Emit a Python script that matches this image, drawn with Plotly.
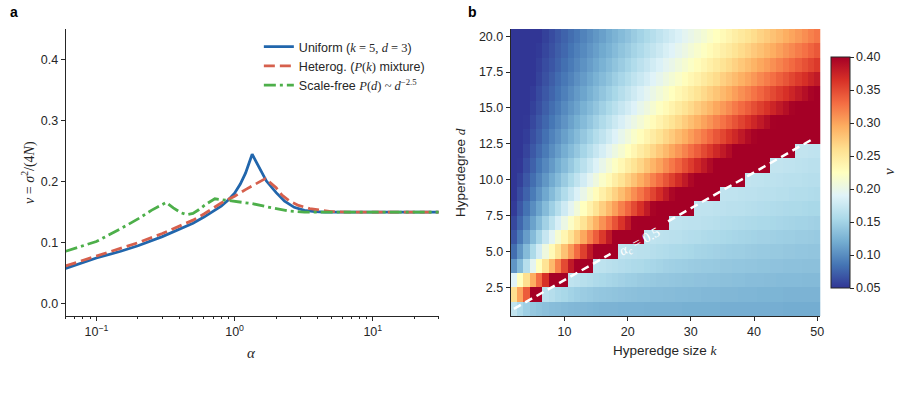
import math
import plotly.graph_objects as go

# ---------------- Panel a: nu vs alpha (log x) ----------------
alpha_uniform = [0.06, 0.08, 0.1, 0.15, 0.2, 0.3, 0.4, 0.5, 0.6, 0.7, 0.8, 0.9, 1.0, 1.1, 1.2,
                 1.34, 1.5, 1.7, 2.0, 2.3, 2.7, 3.2, 3.8, 4.5, 6.0, 10.0, 30.0]
nu_uniform = [0.058, 0.067, 0.075, 0.086, 0.095, 0.110, 0.122, 0.132, 0.142, 0.151, 0.160, 0.170, 0.181,
              0.196, 0.214, 0.245, 0.223, 0.201, 0.182, 0.168, 0.158, 0.153, 0.151, 0.150, 0.150, 0.150, 0.150]

alpha_hetero = [0.06, 0.08, 0.1, 0.15, 0.2, 0.3, 0.4, 0.5, 0.6, 0.7, 0.8, 0.9, 1.0, 1.2, 1.4,
                1.67, 2.0, 2.2, 2.5, 2.9, 3.5, 4.2, 5.0, 7.0, 10.0, 30.0]
nu_hetero = [0.062, 0.071, 0.079, 0.091, 0.100, 0.115, 0.127, 0.137, 0.147, 0.157, 0.165, 0.171, 0.176,
             0.187, 0.196, 0.205, 0.190, 0.178, 0.168, 0.161, 0.156, 0.153, 0.151, 0.150, 0.150, 0.150]

alpha_scalefree = [0.06, 0.08, 0.1, 0.15, 0.2, 0.25, 0.3, 0.32, 0.36, 0.41, 0.45, 0.5, 0.55, 0.62,
                   0.72, 0.85, 1.0, 1.34, 1.87, 2.46, 3.2, 5.0, 10.0, 30.0]
nu_scalefree = [0.086, 0.095, 0.102, 0.123, 0.139, 0.153, 0.162, 0.166, 0.157, 0.149, 0.146, 0.148,
                0.154, 0.163, 0.172, 0.170, 0.168, 0.164, 0.157, 0.152, 0.150, 0.150, 0.150, 0.150]

legend_names = [
    'Uniform (<span style="font-family:Liberation Serif"><i>k</i> = 5, <i>d</i> = 3</span>)',
    'Heterog. (<span style="font-family:Liberation Serif"><i>P</i>(<i>k</i>)</span> mixture)',
    'Scale-free <span style="font-family:Liberation Serif"><i>P</i>(<i>d</i>) ~ <i>d</i><sup>−2.5</sup></span>',
]

# ---------------- Panel b: heatmap nu(k, d) ----------------
k_values = list(range(2, 51))   # hyperedge size k = 2..50
d_values = list(range(1, 21))   # hyperdegree d = 1..20

nu_d01 = [.170, .157, .147, .141, .138, .135, .133, .132, .130, .129, .128, .128, .127, .126, .125, .125, .125,
          .124, .124, .124, .124, .123, .123, .123, .123, .123, .123, .122, .122, .122, .122, .122, .122, .121,
          .121, .121, .121, .121, .121, .121, .121, .121, .121, .120, .120, .120, .120, .120, .120]
nu_d02 = [.260, .300, .340, .400, .400, .166, .162, .157, .154, .150, .147, .145, .143, .141, .140, .139, .138,
          .137, .136, .135, .134, .134, .133, .133, .132, .132, .131, .131, .130, .130, .129, .129, .129, .128,
          .128, .128, .127, .127, .127, .126, .126, .126, .126, .125, .125, .125, .125, .125, .125]
nu_d03 = [.190, .225, .260, .295, .330, .365, .400, .400, .400, .168, .166, .163, .160, .157, .155, .153, .151,
          .149, .147, .146, .144, .143, .142, .141, .141, .140, .139, .138, .138, .137, .137, .136, .136, .135,
          .135, .134, .134, .133, .133, .133, .132, .132, .131, .131, .131, .131, .130, .130, .130]
nu_d04 = [.105, .131, .162, .194, .225, .256, .287, .319, .350, .381, .400, .400, .400, .168, .167, .165, .163,
          .161, .159, .157, .156, .154, .153, .151, .149, .148, .147, .146, .145, .144, .143, .143, .142, .141,
          .141, .140, .140, .139, .139, .138, .138, .137, .137, .136, .136, .136, .135, .135, .135]
nu_d05 = [.081, .106, .131, .156, .181, .206, .231, .256, .281, .306, .331, .356, .381, .400, .400, .400, .400,
          .169, .167, .166, .165, .164, .162, .160, .159, .157, .156, .155, .154, .152, .151, .150, .149, .148,
          .147, .146, .146, .145, .144, .143, .143, .142, .142, .141, .141, .140, .140, .139, .139]
nu_d06 = [.068, .089, .110, .131, .152, .173, .193, .214, .235, .256, .277, .298, .319, .339, .360, .381, .400,
          .400, .400, .400, .400, .169, .168, .167, .166, .165, .164, .162, .161, .160, .158, .157, .156, .155,
          .154, .153, .152, .151, .150, .149, .149, .148, .147, .146, .146, .145, .145, .144, .143]
nu_d07 = [.060, .077, .095, .113, .131, .149, .167, .185, .202, .220, .238, .256, .274, .292, .310, .327, .345,
          .363, .381, .399, .400, .400, .400, .400, .400, .169, .168, .167, .166, .166, .165, .164, .163, .161,
          .160, .159, .158, .157, .156, .155, .155, .154, .153, .152, .151, .150, .150, .149, .148]
nu_d08 = [.053, .069, .084, .100, .115, .131, .147, .162, .178, .194, .209, .225, .240, .256, .272, .287, .303,
          .319, .334, .350, .365, .381, .397, .400, .400, .400, .400, .400, .400, .169, .168, .168, .167, .166,
          .165, .165, .164, .163, .162, .161, .160, .159, .158, .157, .156, .156, .155, .154, .154]
nu_d09 = [.050, .062, .075, .089, .103, .117, .131, .145, .159, .173, .187, .200, .214, .228, .242, .256, .270,
          .284, .298, .312, .325, .339, .353, .367, .381, .395, .400, .400, .400, .400, .400, .400, .400, .169,
          .168, .168, .167, .166, .166, .165, .164, .164, .163, .163, .161, .160, .160, .159, .158]
nu_d10 = [.050, .056, .069, .081, .094, .106, .119, .131, .144, .156, .169, .181, .194, .206, .219, .231, .244,
          .256, .269, .281, .294, .306, .319, .331, .344, .356, .369, .381, .394, .400, .400, .400, .400, .400,
          .400, .400, .400, .170, .169, .168, .167, .167, .166, .165, .164, .164, .163, .162, .162]
nu_d11 = [.050, .051, .063, .074, .086, .097, .108, .120, .131, .142, .154, .165, .176, .188, .199, .211, .222,
          .233, .245, .256, .267, .279, .290, .301, .313, .324, .335, .347, .358, .370, .381, .392, .400, .400,
          .400, .400, .400, .400, .400, .400, .400, .170, .170, .169, .168, .167, .166, .165, .165]
nu_d12 = [.050, .050, .058, .069, .079, .089, .100, .110, .121, .131, .141, .152, .162, .173, .183, .194, .204,
          .214, .225, .235, .246, .256, .266, .277, .287, .298, .308, .318, .329, .339, .350, .360, .371, .381,
          .391, .400, .400, .400, .400, .400, .400, .400, .400, .400, .400, .170, .170, .169, .168]
nu_d13 = [.050, .050, .054, .064, .073, .083, .093, .102, .112, .121, .131, .141, .150, .160, .169, .179, .189,
          .198, .208, .218, .227, .237, .246, .256, .266, .275, .285, .294, .304, .314, .323, .333, .343, .352,
          .362, .371, .381, .391, .398, .400, .400, .400, .400, .400, .400, .400, .400, .400, .400]
nu_d14 = [.050, .050, .051, .060, .069, .077, .086, .095, .104, .113, .122, .131, .140, .149, .158, .167, .176,
          .185, .194, .202, .211, .220, .229, .238, .247, .256, .265, .274, .283, .292, .301, .309, .318, .327,
          .336, .345, .354, .363, .372, .381, .390, .399, .400, .400, .400, .400, .400, .400, .400]
nu_d15 = [.050, .050, .050, .056, .064, .073, .081, .089, .098, .106, .114, .123, .131, .139, .148, .156, .164,
          .173, .181, .189, .198, .206, .214, .223, .231, .239, .248, .256, .264, .273, .281, .289, .298, .306,
          .314, .323, .331, .339, .348, .356, .364, .373, .381, .389, .398, .400, .400, .400, .400]
nu_d16 = [.050, .050, .050, .053, .061, .069, .076, .084, .092, .100, .108, .115, .123, .131, .139, .147, .154,
          .162, .170, .178, .186, .194, .201, .209, .217, .225, .233, .240, .248, .256, .264, .272, .279, .287,
          .295, .303, .311, .318, .326, .334, .342, .350, .358, .365, .373, .381, .389, .397, .400]
nu_d17 = [.050, .050, .050, .050, .057, .065, .072, .080, .087, .094, .102, .109, .116, .124, .131, .138, .146,
          .153, .160, .168, .175, .182, .190, .197, .205, .212, .219, .227, .234, .241, .249, .256, .263, .271,
          .278, .285, .293, .300, .307, .315, .322, .329, .337, .344, .352, .359, .366, .374, .381]
nu_d18 = [.050, .050, .050, .050, .055, .062, .068, .075, .082, .089, .096, .103, .110, .117, .124, .131, .138,
          .145, .152, .159, .166, .173, .180, .187, .194, .200, .207, .214, .221, .228, .235, .242, .249, .256,
          .263, .270, .277, .284, .291, .298, .304, .311, .318, .325, .332, .339, .346, .353, .360]
nu_d19 = [.050, .050, .050, .050, .052, .059, .065, .072, .078, .085, .092, .098, .105, .111, .118, .124, .131,
          .138, .144, .151, .157, .164, .170, .177, .184, .190, .197, .203, .210, .217, .223, .230, .236, .243,
          .249, .256, .263, .269, .276, .282, .289, .295, .302, .309, .315, .322, .328, .335, .342]
nu_d20 = [.050, .050, .050, .050, .050, .056, .062, .069, .075, .081, .087, .094, .100, .106, .112, .119, .125,
          .131, .137, .144, .150, .156, .162, .169, .175, .181, .187, .194, .200, .206, .212, .219, .225, .231,
          .237, .244, .250, .256, .262, .269, .275, .281, .287, .294, .300, .306, .312, .319, .325]

nu_grid = [nu_d01, nu_d02, nu_d03, nu_d04, nu_d05, nu_d06, nu_d07, nu_d08, nu_d09, nu_d10,
           nu_d11, nu_d12, nu_d13, nu_d14, nu_d15, nu_d16, nu_d17, nu_d18, nu_d19, nu_d20]
for row in nu_grid:
    assert len(row) == len(k_values), len(row)

# critical line alpha_c = 0.5 (gap where the inline label sits)
crit_k = [2.0, 17.3, None, 26.4, 49.5]
crit_d = [1.0, 4.83, None, 7.10, 12.88]
crit_label = '<i>α</i><sub><i>c</i></sub> = 0.5'
crit_label_pos = (21.9, 5.6)

# ---------------- figure ----------------
W, H = 904, 403
SANS = 'Liberation Sans, Arial, sans-serif'
SERIF = 'Liberation Serif, Times New Roman, serif'
AX = '#262626'


def fx(p):
    return p / W


def fy(p):
    return 1 - p / H


fig = go.Figure()

fig.add_trace(go.Scatter(x=alpha_uniform, y=nu_uniform, mode='lines', name=legend_names[0],
                         line=dict(color='#2166ac', width=2.8), xaxis='x', yaxis='y'))
fig.add_trace(go.Scatter(x=alpha_hetero, y=nu_hetero, mode='lines', name=legend_names[1],
                         line=dict(color='#d6604d', width=2.8, dash='11px,5px'), xaxis='x', yaxis='y'))
fig.add_trace(go.Scatter(x=alpha_scalefree, y=nu_scalefree, mode='lines', name=legend_names[2],
                         line=dict(color='#4daf4a', width=2.8, dash='12px,4px,3px,4px'), xaxis='x', yaxis='y'))

fig.add_trace(go.Heatmap(
    x=k_values, y=d_values, z=nu_grid, zmin=0.05, zmax=0.40, colorscale='RdYlBu_r',
    xaxis='x2', yaxis='y2', showlegend=False,
    colorbar=dict(x=fx(835), xanchor='left', y=fy(172.5), yanchor='middle',
                  len=231 / H, lenmode='fraction', thickness=19, thicknessmode='pixels',
                  outlinewidth=1, outlinecolor=AX, ticks='outside', ticklen=3.5, tickwidth=1,
                  tickcolor=AX, tickvals=[0.05, 0.10, 0.15, 0.20, 0.25, 0.30, 0.35, 0.40],
                  tickformat='.2f', tickfont=dict(family=SANS, size=12.5, color=AX), xpad=0, ypad=0),
))
fig.add_trace(go.Scatter(x=crit_k, y=crit_d, mode='lines', showlegend=False, connectgaps=False,
                         line=dict(color='white', width=2.5, dash='8px,5px'), xaxis='x2', yaxis='y2',
                         hoverinfo='skip'))

tickfont = dict(family=SANS, size=12.5, color=AX)
common = dict(showgrid=False, zeroline=False, showline=True, linecolor=AX, linewidth=1,
              ticks='outside', ticklen=4, tickwidth=1, tickcolor=AX, tickfont=tickfont)

minor_vals = [0.06, 0.07, 0.08, 0.09, 0.2, 0.3, 0.4, 0.5, 0.6, 0.7, 0.8, 0.9,
              2, 3, 4, 5, 6, 7, 8, 9, 20, 30]

fig.update_layout(
    width=W, height=H, margin=dict(l=0, r=0, t=0, b=0),
    paper_bgcolor='white', plot_bgcolor='white',
    font=dict(family=SANS, size=12.5, color=AX),
    xaxis=dict(type='log', domain=[fx(66), fx(440.7)], range=[math.log10(0.06), math.log10(30)],
               anchor='y', tickvals=[0.1, 1, 10],
               ticktext=['10<sup>−1</sup>', '10<sup>0</sup>', '10<sup>1</sup>'],
               minor=dict(tickvals=minor_vals, ticks='outside', ticklen=2.2, tickwidth=0.8, tickcolor=AX),
               **common),
    yaxis=dict(domain=[fy(316), fy(29)], range=[-0.02, 0.45], anchor='x',
               tickvals=[0.0, 0.1, 0.2, 0.3, 0.4], tickformat='.1f', **common),
    xaxis2=dict(domain=[fx(513), fx(824)], range=[1.5, 50.5], anchor='y2',
                tickvals=[10, 20, 30, 40, 50], **common),
    yaxis2=dict(domain=[fy(316), fy(29)], range=[0.5, 20.5], anchor='x2',
                tickvals=[2.5, 5, 7.5, 10, 12.5, 15, 17.5, 20], tickformat='.1f', **common),
    legend=dict(x=fx(260), y=fy(32), xanchor='left', yanchor='top', bgcolor='rgba(0,0,0,0)',
                font=dict(family=SANS, size=12.5, color=AX), itemwidth=30, tracegroupgap=0),
    showlegend=True,
)

ann = [
    dict(text='<b>a</b>', x=fx(8), y=fy(12), xanchor='left', yanchor='middle',
         font=dict(family=SANS, size=14, color='black')),
    dict(text='<b>b</b>', x=fx(468), y=fy(12), xanchor='left', yanchor='middle',
         font=dict(family=SANS, size=14, color='black')),
    dict(text='<i>α</i>', x=fx(253), y=fy(353), xanchor='center', yanchor='middle',
         font=dict(family=SERIF, size=15, color=AX)),
    dict(text='<i>ν</i> = <i>σ</i><sup>2</sup>/(4<i>N</i>)', x=fx(28), y=fy(172), xanchor='center',
         yanchor='middle', textangle=-90, font=dict(family=SERIF, size=14, color=AX)),
    dict(text='Hyperedge size <span style="font-family:Liberation Serif"><i>k</i></span>', x=fx(668),
         y=fy(350), xanchor='center', yanchor='middle', font=dict(family=SANS, size=13.5, color=AX)),
    dict(text='Hyperdegree <span style="font-family:Liberation Serif"><i>d</i></span>', x=fx(462),
         y=fy(172), xanchor='center', yanchor='middle', textangle=-90,
         font=dict(family=SANS, size=13.5, color=AX)),
    dict(text='<i>ν</i>', x=fx(893), y=fy(172), xanchor='center', yanchor='middle', textangle=-90,
         font=dict(family=SERIF, size=15, color=AX)),
]
for a in ann:
    a.update(xref='paper', yref='paper', showarrow=False)
ann.append(dict(text=crit_label, x=crit_label_pos[0], y=crit_label_pos[1], xref='x2', yref='y2',
                showarrow=False, textangle=-28.5, xanchor='center', yanchor='middle',
                font=dict(family=SERIF, size=14, color='white')))
fig.update_layout(annotations=ann)

fig.write_html('out.html')
